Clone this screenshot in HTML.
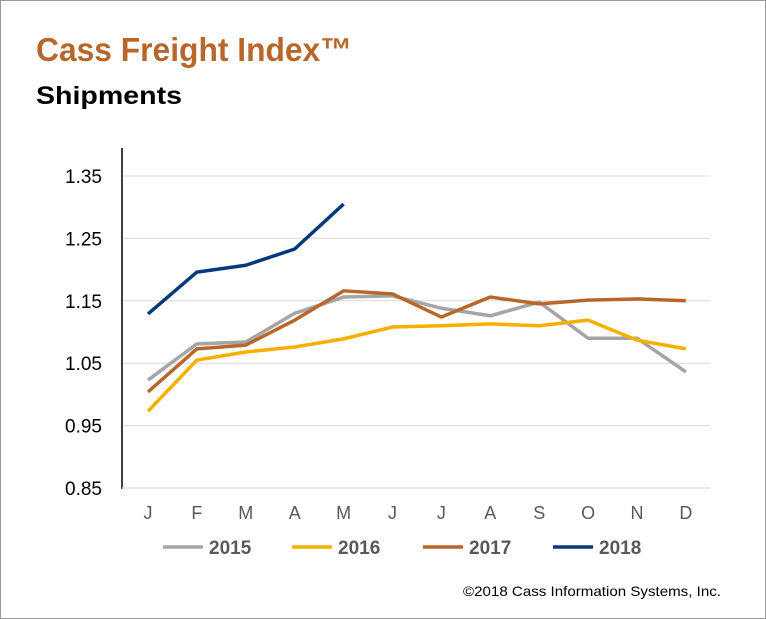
<!DOCTYPE html>
<html><head><meta charset="utf-8"><style>
body{margin:0;background:#fff}
svg{display:block;font-family:"Liberation Sans",sans-serif}
</style></head><body>
<svg width="766" height="619" viewBox="0 0 766 619">
<rect x="0.5" y="0.5" width="765" height="618" fill="#fff" stroke="#9a9a9a"/>
<text x="36" y="61" font-size="33" font-weight="bold" fill="#b8672b" textLength="316" lengthAdjust="spacingAndGlyphs">Cass Freight Index™</text>
<text x="36" y="104" font-size="25" font-weight="bold" fill="#000" textLength="146" lengthAdjust="spacingAndGlyphs">Shipments</text>
<g id="grid"></g><g id="axes"></g><g id="series"></g><g id="legend"></g>
<text x="463" y="596" font-size="14" fill="#000" textLength="258" lengthAdjust="spacingAndGlyphs">©2018 Cass Information Systems, Inc.</text>
</svg>
<script>
const months=["J","F","M","A","M","J","J","A","S","O","N","D"];
const yTicks=[0.85,0.95,1.05,1.15,1.25,1.35];
const seriesNames=["2015","2016","2017","2018"];
const s2015=[1.023,1.081,1.084,1.130,1.156,1.158,1.138,1.126,1.148,1.090,1.090,1.036];
const s2016=[0.973,1.055,1.068,1.076,1.089,1.108,1.110,1.113,1.110,1.119,1.087,1.073];
const s2017=[1.004,1.073,1.079,1.119,1.166,1.161,1.124,1.156,1.145,1.151,1.153,1.150];
const s2018=[1.129,1.196,1.207,1.233,1.305];
const colors=["#a5a5a5","#f5b000","#b8672b","#053a7a"];
const NS="http://www.w3.org/2000/svg";
const x=i=>148+i*48.9;
const y=v=>488-(v-0.85)*624;
function mk(tag,attrs,parent){const e=document.createElementNS(NS,tag);for(const k in attrs)e.setAttribute(k,attrs[k]);document.getElementById(parent).appendChild(e);return e;}
yTicks.forEach(t=>{
  if(t>0.85){const g=mk("line",{x1:122,x2:710,y1:y(t),y2:y(t),stroke:"#d9d9d9","stroke-width":1},"grid");
  
  }
  const l=mk("text",{x:102,y:y(t)+7,"font-size":19,"text-anchor":"end",fill:"#000"},"axes");
  l.textContent=t.toFixed(2);
  
  
});
const ya=mk("line",{x1:122,x2:122,y1:148,y2:489,stroke:"#000","stroke-width":1.5},"axes");


const xa=mk("line",{x1:122,x2:710,y1:488,y2:488,stroke:"#d9d9d9","stroke-width":1.2},"axes");


months.forEach((m,i)=>{
  const t=mk("text",{x:x(i),y:519,"font-size":18,"text-anchor":"middle",fill:"#595959"},"axes");
  t.textContent=m;
  
  
});
[s2015,s2016,s2017,s2018].forEach((s,k)=>{
  const p=mk("polyline",{points:s.map((v,i)=>x(i)+","+y(v)).join(" "),fill:"none",stroke:colors[k],"stroke-width":3.5,"stroke-linejoin":"round"},"series");
  
  
});
const lx=[163,292,423,553];
seriesNames.forEach((n,k)=>{
  const l=mk("line",{x1:lx[k],x2:lx[k]+40,y1:547,y2:547,stroke:colors[k],"stroke-width":3.5},"legend");
  
  
  const t=mk("text",{x:lx[k]+46,y:554,"font-size":19,"font-weight":"bold",fill:"#595959"},"legend");
  t.textContent=n;
  
  
});
</script>
</body></html>
